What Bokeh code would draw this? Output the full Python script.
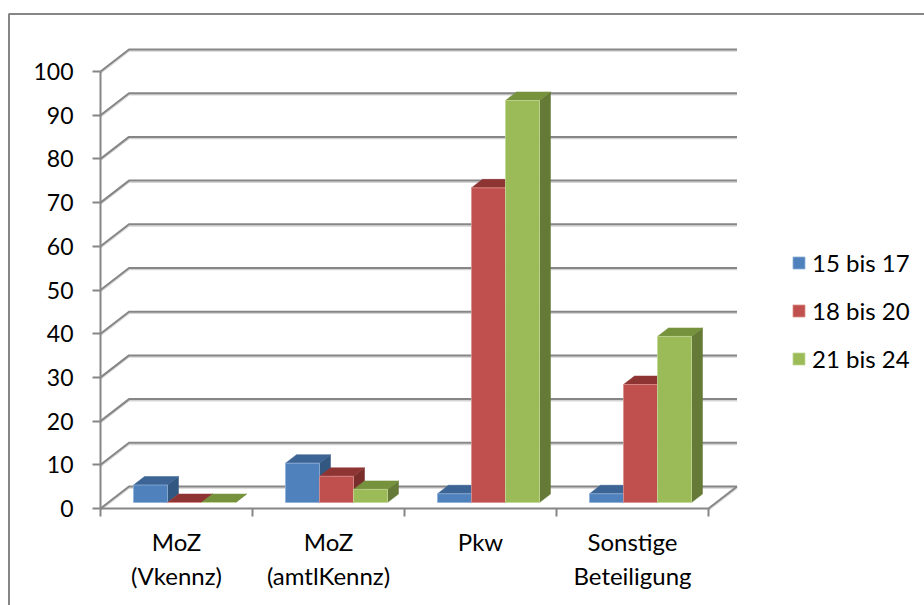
from bokeh.embed import file_html
from bokeh.models import (BoxAnnotation, ColumnDataSource, FixedTicker, Legend,
                          LegendItem, Range1d)
from bokeh.plotting import figure
from bokeh.resources import INLINE

categories = ["MoZ\n(Vkennz)", "MoZ\n(amtlKennz)", "Pkw", "Sonstige\nBeteiligung"]
series_names = ["15 bis 17", "18 bis 20", "21 bis 24"]
values_15_17 = [4, 9, 2, 2]
values_18_20 = [0, 6, 72, 27]
values_21_24 = [0, 3, 92, 38]
y_ticks = list(range(0, 101, 10))

front_colors = ["#4F81BD", "#C0504D", "#9BBB59"]
top_colors = ["#3C6494", "#8E3534", "#76923C"]
side_colors = ["#325780", "#7A2E2C", "#647A36"]
edge_colors = ["#8FB0D8", "#DB8F8D", "#C3D896"]
grid_color = "#868686"
shadow_color = "#D4D4D4"
FONT = "Lato"

# Scale: one category is 152 px wide, one value unit 4.37 px tall.
PX_X = 152.0
PX_Y = 4.37
WALL_DX = 28.5 / PX_X
WALL_DY = 22.0 / PX_Y
BAR_W = 34.0 / PX_X
BAR_SHIFT_X = 33.0 / PX_X       # left edge of a group, from the category start
BASE_Y = 6.0 / PX_Y             # how far the bars stand off the front of the floor
BAR_DX = 11.0 / PX_X
BAR_DY = 8.5 / PX_Y

# The frame fills the page; the axes sit inside it at fixed data positions.
p = figure(width=924, height=605, output_backend="svg", toolbar_location=None,
           x_range=Range1d(-100 / PX_X, 824 / PX_X),
           y_range=Range1d(-97 / PX_Y, 508 / PX_Y),
           min_border_left=0, min_border_right=0, min_border_top=0,
           min_border_bottom=0, outline_line_color=None,
           background_fill_color="white", border_fill_color="white")
p.grid.visible = False

# Chart-area border, running off the right and bottom of the page.
p.add_layout(BoxAnnotation(left=8.5, right=940, top=13.5, bottom=620,
                           left_units="canvas", right_units="canvas",
                           top_units="canvas", bottom_units="canvas",
                           fill_color=None, line_color=grid_color, line_alpha=1,
                           line_width=2, level="underlay"))

# Side wall and back wall gridlines; the zero line also closes the floor on the right.
wall_xs, wall_ys = [], []
for v in y_ticks:
    wall_xs.append([0, WALL_DX, 4 + WALL_DX])
    wall_ys.append([v, v + WALL_DY, v + WALL_DY])
wall_xs.append([4, 4 + WALL_DX])
wall_ys.append([0, WALL_DY])
shadow_drop = 1.6 / PX_Y
p.multi_line(wall_xs, [[y - shadow_drop for y in ys] for ys in wall_ys],
             line_color=shadow_color, line_width=1.5)
p.multi_line(wall_xs, wall_ys, line_color=grid_color, line_width=2)

# Bars, left to right so that each front face hides its neighbour's side.
all_series = [values_15_17, values_18_20, values_21_24]
legend_items = []
for s, (name, vals) in enumerate(zip(series_names, all_series)):
    left = [i + BAR_SHIFT_X + s * BAR_W for i in range(len(vals))]
    right = [x + BAR_W for x in left]
    tops = [v + BASE_Y for v in vals]
    bottoms = [BASE_Y] * len(vals)
    top_xs = [[l, r, r + BAR_DX, l + BAR_DX] for l, r in zip(left, right)]
    top_ys = [[t, t, t + BAR_DY, t + BAR_DY] for t in tops]
    side_xs = [[r, r + BAR_DX, r + BAR_DX, r] for r in right]
    side_ys = [[b, b + BAR_DY, t + BAR_DY, t] for b, t in zip(bottoms, tops)]
    p.patches(side_xs, side_ys, fill_color=side_colors[s], line_color=side_colors[s], line_width=0.5)
    p.patches(top_xs, top_ys, fill_color=top_colors[s], line_color=top_colors[s], line_width=0.5)
    source = ColumnDataSource(dict(left=left, right=right, top=tops, bottom=bottoms))
    front = p.quad(left="left", right="right", top="top", bottom="bottom", source=source,
                   fill_color=front_colors[s], line_color=edge_colors[s], line_width=0.8)
    legend_items.append(LegendItem(label=name, renderers=[front]))

# Value axis, kept to the height of the front edge.
y_axis = p.yaxis[0]
y_axis.fixed_location = 0
y_axis.ticker = FixedTicker(ticks=y_ticks)
y_axis.bounds = (0, 100)
y_axis.axis_line_color = grid_color
y_axis.axis_line_width = 2
y_axis.major_tick_line_color = grid_color
y_axis.major_tick_line_width = 2
y_axis.major_tick_in = 0
y_axis.major_tick_out = 8
y_axis.minor_tick_line_color = None
y_axis.major_label_standoff = 19
y_axis.major_label_text_font = FONT
y_axis.major_label_text_font_size = "23px"
y_axis.major_label_text_color = "#000000"

# Category axis: labels on the centres, tick marks on the boundaries.
x_axis = p.xaxis[0]
x_axis.fixed_location = 0
centres = [i + 0.5 for i in range(len(categories))]
x_axis.ticker = FixedTicker(ticks=centres, minor_ticks=list(range(len(categories) + 1)))
x_axis.major_label_overrides = dict(zip(centres, categories))
x_axis.bounds = (0, 4)
x_axis.axis_line_color = grid_color
x_axis.axis_line_width = 2
x_axis.major_tick_line_color = None
x_axis.major_tick_in = 0
x_axis.major_tick_out = 0
x_axis.minor_tick_line_color = grid_color
x_axis.minor_tick_line_width = 2
x_axis.minor_tick_in = 0
x_axis.minor_tick_out = 8
x_axis.major_label_standoff = 10
x_axis.major_label_text_font = FONT
x_axis.major_label_text_font_size = "24px"
x_axis.major_label_text_color = "#000000"
x_axis.major_label_orientation = "horizontal"

legend = Legend(items=legend_items, location=(791, 232), orientation="vertical",
                background_fill_alpha=0, border_line_color=None, margin=0, padding=0,
                glyph_width=15, glyph_height=15, label_standoff=6, spacing=19,
                label_text_font=FONT, label_text_font_size="24px",
                label_text_color="#000000")
p.add_layout(legend)

open("out.html", "w").write(file_html(p, INLINE))
